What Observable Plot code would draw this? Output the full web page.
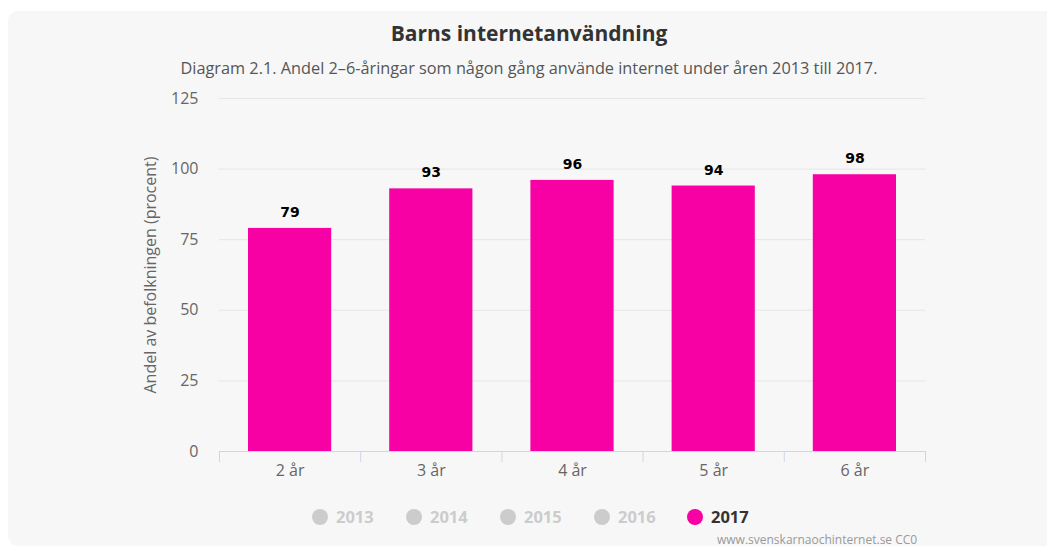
<!DOCTYPE html>
<html>
<head>
<meta charset="utf-8">
<script src="https://cdn.jsdelivr.net/npm/d3@7"></script>
<script src="https://cdn.jsdelivr.net/npm/@observablehq/plot@0.6"></script>
<style>
  html, body { margin: 0; padding: 0; background: #ffffff; width: 1047px; height: 547px; overflow: hidden; font-family: "Open Sans", sans-serif; }
  #panel { position: absolute; left: 8px; top: 11px; width: 1060px; height: 535px; background: #f7f7f7; border-radius: 10px; }
  #title { position: absolute; left: 0; width: 1058px; top: 19px; text-align: center; font-weight: bold; font-size: 21px; color: #333333; }
  #subtitle { position: absolute; left: 0; width: 1058px; top: 57px; text-align: center; font-size: 16.3px; color: #555555; }
  #chart { position: absolute; left: 0; top: 85px; }
  #legend { position: absolute; left: 0; top: 506px; width: 1047px; height: 24px; }
  .item { position: absolute; top: 0; font-weight: bold; font-size: 16.5px; line-height: 22px; color: #cccccc; white-space: nowrap; }
  .dot { display: inline-block; width: 16px; height: 16px; border-radius: 50%; background: #cccccc; vertical-align: -2px; margin-right: 8px; }
  #credit { position: absolute; left: 717px; top: 531px; font-size: 12px; color: #999999; white-space: nowrap; }
</style>
</head>
<body>
<div id="panel"></div>
<div id="title">Barns internetanvändning</div>
<div id="subtitle">Diagram 2.1. Andel 2–6-åringar som någon gång använde internet under åren 2013 till 2017.</div>
<div id="chart"></div>
<div id="legend"></div>
<div id="credit">www.svenskarnaochinternet.se CC0</div>
<script>
const categories = ["2 år", "3 år", "4 år", "5 år", "6 år"];
const values2017 = [79, 93, 96, 94, 98];
const years = ["2013", "2014", "2015", "2016", "2017"];
const activeYear = "2017";
const yTicks = [0, 25, 50, 75, 100, 125];

const pink = "#f700a4";
const data = categories.map((c, i) => ({category: c, idx: i, value: values2017[i]}));
const boundaries = d3.range(categories.length + 1);
const centers = categories.map((c, i) => i + 0.5);

const chart = Plot.plot({
  width: 1047,
  height: 400,
  marginTop: 13,
  marginBottom: 34,
  marginLeft: 219,
  marginRight: 122,
  style: {background: "transparent", fontFamily: "Open Sans, sans-serif"},
  x: {type: "linear", domain: [0, categories.length]},
  y: {domain: [0, 125]},
  marks: [
    Plot.gridY(yTicks, {stroke: "#e6e6e6", strokeOpacity: 1, strokeWidth: 1}),
    Plot.axisY(yTicks, {tickSize: 0, tickPadding: 21, fontSize: 16, color: "#666666",
      label: "Andel av befolkningen (procent)", labelAnchor: "center", labelArrow: "none", labelOffset: 75}),
    Plot.rectY(data, {x1: "idx", x2: d => d.idx + 1, y: "value", fill: pink, insetLeft: 29, insetRight: 29}),
    Plot.text(data, {x: d => d.idx + 0.5, y: "value", text: d => String(d.value), dy: -16,
      fontFamily: "DejaVu Sans, sans-serif", fontWeight: "bold", fontSize: 14, fill: "#000000"}),
    Plot.ruleY([0], {stroke: "#ccd6eb", strokeWidth: 1}),
    Plot.axisX(boundaries, {tickSize: 11, stroke: "#ccd6eb", tickFormat: () => "", label: null}),
    Plot.axisX(centers, {tickSize: 0, tickPadding: 13, fontSize: 16, fill: "#666666",
      tickFormat: v => categories[Math.floor(v)], label: null})
  ]
});
document.getElementById("chart").appendChild(chart);

const legend = document.getElementById("legend");
const legendX = [312, 406, 500, 594, 687];
years.forEach((y, i) => {
  const el = document.createElement("div");
  el.className = "item";
  el.style.left = legendX[i] + "px";
  const dot = document.createElement("span");
  dot.className = "dot";
  if (y === activeYear) { dot.style.background = pink; el.style.color = "#333333"; }
  el.appendChild(dot);
  el.appendChild(document.createTextNode(y));
  legend.appendChild(el);
});
</script>
</body>
</html>
